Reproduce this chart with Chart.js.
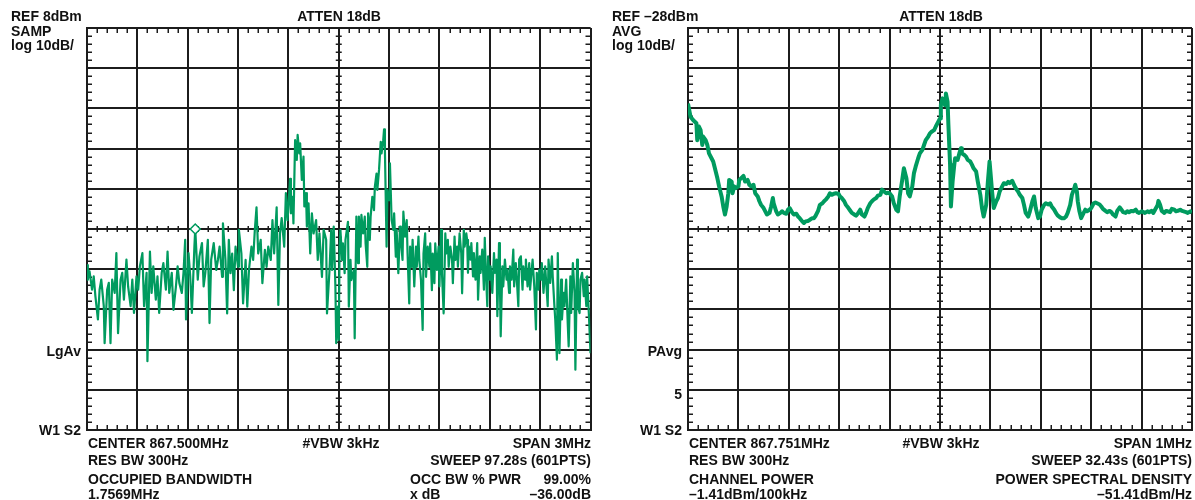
<!DOCTYPE html>
<html>
<head>
<meta charset="utf-8">
<script src="https://cdn.jsdelivr.net/npm/chart.js@4.4.1/dist/chart.umd.min.js"></script>
<style>
  body { margin: 0; background: #fff; }
  #wrap { position: relative; width: 1195px; height: 500px; overflow: hidden; background: #fff; }
  canvas { position: absolute; top: 0; }
  #sampChart { left: 0; }
  #avgChart { left: 601px; }
  .t {
    position: absolute; white-space: nowrap; color: #111;
    font: bold 14px "Liberation Sans", Arial, sans-serif; line-height: 16px;
  }
  .c { transform: translateX(-50%); }
</style>
</head>
<body>
<div id="wrap">
  <canvas id="sampChart" width="597" height="500"></canvas>
  <canvas id="avgChart" width="594" height="500"></canvas>

  <div class="t" style="left:11px;top:8px">REF 8dBm</div>
  <div class="t" style="left:11px;top:23px">SAMP</div>
  <div class="t" style="left:11px;top:37px">log 10dB/</div>
  <div class="t c" style="left:339px;top:8px">ATTEN 18dB</div>
  <div class="t" style="right:1114px;top:343px">LgAv</div>
  <div class="t" style="right:1114px;top:422px">W1 S2</div>
  <div class="t" style="left:88px;top:435px">CENTER 867.500MHz</div>
  <div class="t" style="left:88px;top:452px">RES BW 300Hz</div>
  <div class="t" style="left:88px;top:471px">OCCUPIED BANDWIDTH</div>
  <div class="t" style="left:88px;top:486px">1.7569MHz</div>
  <div class="t c" style="left:341px;top:435px">#VBW 3kHz</div>
  <div class="t" style="right:604px;top:435px">SPAN 3MHz</div>
  <div class="t" style="right:604px;top:452px">SWEEP 97.28s (601PTS)</div>
  <div class="t" style="left:410px;top:471px">OCC BW % PWR</div>
  <div class="t" style="right:604px;top:471px">99.00%</div>
  <div class="t" style="left:410px;top:486px">x dB</div>
  <div class="t" style="right:604px;top:486px">–36.00dB</div>

  <div class="t" style="left:612px;top:8px">REF –28dBm</div>
  <div class="t" style="left:612px;top:23px">AVG</div>
  <div class="t" style="left:612px;top:37px">log 10dB/</div>
  <div class="t c" style="left:941px;top:8px">ATTEN 18dB</div>
  <div class="t" style="right:513px;top:343px">PAvg</div>
  <div class="t" style="right:513px;top:386px">5</div>
  <div class="t" style="right:513px;top:422px">W1 S2</div>
  <div class="t" style="left:689px;top:435px">CENTER 867.751MHz</div>
  <div class="t" style="left:689px;top:452px">RES BW 300Hz</div>
  <div class="t" style="left:689px;top:471px">CHANNEL POWER</div>
  <div class="t" style="left:689px;top:486px">–1.41dBm/100kHz</div>
  <div class="t c" style="left:941px;top:435px">#VBW 3kHz</div>
  <div class="t" style="right:3px;top:435px">SPAN 1MHz</div>
  <div class="t" style="right:3px;top:452px">SWEEP 32.43s (601PTS)</div>
  <div class="t" style="right:3px;top:471px">POWER SPECTRAL DENSITY</div>
  <div class="t" style="right:3px;top:486px">–51.41dBm/Hz</div>
</div>

<script>
// sweep has 601 points (0..600); levels in dBm
let sampRef = 8;
let avgRef = -28;
let dbPerDiv = 10;

let sampPts = [
  0, 1, 3, 6, 8, 10, 13, 15, 17, 20,
  21, 24, 26, 28, 30, 33, 35, 37, 40, 42,
  44, 47, 49, 52, 54, 56, 59, 61, 63, 66,
  68, 71, 72, 75, 77, 79, 82, 84, 86, 89,
  91, 94, 96, 98, 101, 103, 106, 108, 110, 113,
  115, 117, 118, 121, 123, 125, 128, 129, 132, 134,
  137, 139, 141, 144, 146, 148, 151, 154, 156, 158,
  161, 162, 165, 167, 169, 171, 173, 175, 177, 180,
  181, 184, 186, 189, 191, 193, 196, 198, 200, 202,
  204, 207, 209, 212, 214, 216, 219, 221, 223, 226,
  228, 230, 232, 235, 237, 239, 240, 242, 243, 245,
  246, 248, 250, 251, 253, 254, 256, 258, 259, 261,
  262, 264, 266, 268, 270, 273, 275, 277, 280, 282,
  285, 286, 289, 291, 292, 294, 296, 297, 299, 300,
  301, 302, 304, 305, 307, 308, 311, 312, 314, 315,
  318, 319, 321, 323, 324, 326, 327, 329, 331, 332,
  334, 335, 337, 338, 340, 342, 343, 345, 346, 348,
  350, 351, 353, 354, 355, 357, 358, 360, 361, 363,
  365, 366, 368, 369, 371, 373, 374, 376, 377, 379,
  381, 382, 384, 385, 387, 388, 390, 392, 393, 395,
  396, 398, 400, 401, 403, 404, 406, 408, 409, 411,
  412, 414, 415, 417, 419, 420, 422, 423, 425, 427,
  428, 430, 431, 433, 435, 436, 438, 439, 441, 442,
  444, 446, 447, 449, 450, 452, 453, 454, 455, 457,
  458, 460, 461, 463, 465, 466, 468, 469, 471, 473,
  474, 475, 477, 478, 480, 481, 483, 485, 486, 488,
  489, 491, 492, 493, 495, 496, 498, 500, 501, 503,
  504, 506, 508, 509, 511, 512, 514, 515, 517, 519,
  520, 522, 523, 525, 527, 528, 530, 531, 533, 535,
  536, 538, 539, 541, 542, 544, 546, 547, 549, 550,
  552, 554, 555, 557, 558, 560, 561, 563, 565, 566,
  568, 569, 571, 573, 574, 576, 577, 579, 581, 582,
  584, 585, 587, 588, 590, 592, 593, 595, 596, 598,
  600
];
let sampLevels = [
  -51.0, -54.6, -52.5, -57.1, -53.8, -58.7, -64.5, -57.1, -54.6, -61.2,
  -70.4, -57.1, -55.4, -70.4, -54.6, -57.9, -48.0, -67.9, -54.6, -52.9,
  -59.6, -49.6, -56.3, -61.2, -54.6, -62.9, -53.8, -57.1, -51.3, -48.0,
  -61.2, -52.9, -74.9, -47.6, -57.9, -51.3, -59.6, -53.8, -62.9, -52.9,
  -50.5, -57.1, -47.6, -57.9, -52.9, -62.1, -56.3, -51.3, -55.4, -57.9,
  -52.9, -44.7, -64.5, -48.0, -53.8, -62.9, -46.3, -42.0, -54.6, -48.8,
  -45.5, -56.3, -52.9, -44.7, -65.4, -49.6, -45.5, -52.2, -49.7, -46.4,
  -53.9, -40.6, -49.7, -63.0, -44.7, -53.0, -48.1, -57.2, -46.4, -51.4,
  -42.2, -48.1, -60.5, -49.7, -61.3, -52.2, -46.4, -49.7, -42.2, -36.6,
  -48.1, -44.7, -55.5, -47.2, -51.4, -46.4, -49.7, -39.8, -48.1, -36.6,
  -60.9, -43.1, -39.3, -46.4, -33.1, -39.8, -36.4, -29.5, -38.1, -34.0,
  -40.6, -19.9, -24.8, -18.6, -23.2, -20.7, -29.8, -24.0, -36.4, -33.1,
  -41.4, -35.6, -48.1, -38.1, -43.1, -39.8, -49.7, -43.1, -53.9, -42.2,
  -44.7, -63.0, -52.2, -42.2, -52.2, -41.4, -56.3, -70.4, -61.3, -69.6,
  -46.4, -42.2, -49.7, -45.6, -53.0, -44.7, -40.2, -61.3, -49.7, -54.7,
  -52.2, -69.2, -38.9, -50.5, -38.9, -46.4, -38.5, -43.1, -38.9, -45.6,
  -51.4, -38.1, -44.7, -38.9, -34.0, -37.3, -31.5, -28.2, -32.3, -27.3,
  -20.3, -23.2, -19.9, -17.2, -22.3, -46.4, -32.3, -34.8, -25.7, -39.8,
  -42.2, -38.1, -48.9, -42.2, -53.0, -41.4, -44.7, -49.7, -37.7, -43.9,
  -39.8, -48.1, -60.5, -46.4, -51.4, -44.7, -56.3, -46.4, -51.4, -43.9,
  -49.7, -54.7, -67.1, -48.1, -43.1, -53.9, -46.4, -51.4, -45.6, -57.2,
  -48.1, -55.5, -45.6, -52.2, -46.4, -56.3, -42.2, -53.0, -63.0, -43.1,
  -48.1, -44.7, -51.4, -46.4, -49.7, -55.5, -43.9, -49.7, -46.4, -51.4,
  -43.1, -48.1, -58.0, -42.2, -46.4, -43.1, -44.7, -52.9, -46.3, -49.6,
  -45.5, -53.8, -48.0, -54.6, -45.5, -59.6, -48.8, -52.9, -47.1, -57.1,
  -44.2, -50.5, -61.2, -48.8, -54.6, -51.3, -57.9, -48.0, -52.9, -49.6,
  -63.7, -45.5, -54.6, -68.7, -51.3, -56.3, -49.6, -54.6, -52.1, -57.9,
  -51.3, -54.6, -47.1, -56.3, -50.5, -53.8, -61.2, -49.6, -48.8, -57.1,
  -51.3, -54.6, -49.6, -56.3, -50.5, -57.1, -52.1, -49.6, -56.3, -67.0,
  -52.9, -57.1, -52.1, -54.6, -50.5, -57.9, -51.3, -54.6, -61.2, -49.6,
  -55.4, -48.8, -53.8, -61.2, -64.5, -74.5, -48.0, -72.9, -54.6, -64.5,
  -57.9, -61.2, -54.6, -66.2, -71.2, -53.8, -62.9, -50.5, -57.9, -77.0,
  -49.6, -61.2, -62.9, -54.6, -52.9, -58.7, -54.6, -61.2, -53.8, -62.9,
  -72.9
];
let markerPts = [129];
let markerLevels = [-42.0];

let avgPts = [
  0, 3, 6, 10, 11, 13, 15, 17, 18, 21,
  23, 25, 28, 30, 33, 35, 37, 40, 42, 44,
  46, 48, 49, 52, 53, 55, 57, 60, 61, 63,
  66, 68, 71, 73, 75, 78, 80, 83, 85, 87,
  90, 92, 94, 97, 99, 101, 102, 105, 107, 110,
  112, 114, 117, 119, 121, 124, 126, 129, 131, 133,
  136, 138, 140, 143, 145, 148, 150, 152, 155, 157,
  160, 162, 164, 167, 169, 171, 174, 176, 179, 181,
  183, 186, 188, 191, 193, 195, 198, 200, 202, 205,
  207, 210, 212, 214, 217, 219, 221, 224, 226, 229,
  231, 233, 236, 238, 240, 243, 245, 248, 250, 252,
  255, 257, 260, 262, 264, 267, 269, 271, 274, 276,
  279, 281, 283, 286, 288, 290, 293, 295, 298, 300,
  301, 303, 306, 307, 309, 310, 312, 313, 315, 317,
  318, 321, 323, 325, 326, 329, 331, 333, 336, 338,
  340, 343, 345, 348, 350, 352, 355, 357, 359, 360,
  362, 364, 367, 369, 371, 374, 376, 379, 381, 383,
  386, 388, 390, 393, 395, 398, 400, 402, 405, 407,
  410, 412, 414, 417, 419, 421, 424, 426, 429, 431,
  433, 436, 438, 440, 443, 445, 448, 450, 452, 455,
  457, 460, 461, 463, 464, 466, 468, 471, 473, 475,
  478, 480, 483, 485, 487, 490, 492, 494, 497, 499,
  502, 504, 506, 509, 511, 514, 516, 518, 521, 523,
  525, 528, 530, 533, 535, 537, 540, 542, 544, 547,
  549, 552, 554, 556, 559, 560, 562, 564, 567, 569,
  571, 574, 576, 579, 581, 583, 586, 588, 590, 593,
  595, 598, 600
];
let avgLevels = [
  -46.8, -50.1, -50.9, -51.7, -55.9, -52.5, -53.4, -57.1, -55.0, -55.9,
  -57.1, -59.2, -60.4, -61.2, -63.7, -65.4, -67.4, -69.9, -72.4, -74.4,
  -72.4, -69.1, -65.8, -66.2, -69.1, -67.4, -67.8, -67.4, -65.8, -65.4,
  -64.8, -66.2, -65.8, -67.0, -67.4, -67.0, -69.1, -69.9, -71.1, -72.0,
  -72.8, -73.6, -74.4, -74.0, -72.4, -70.3, -71.6, -73.6, -74.4, -74.0,
  -73.6, -74.0, -74.2, -73.2, -72.8, -73.9, -74.4, -74.2, -74.9, -75.3,
  -76.1, -76.5, -76.1, -76.0, -75.7, -75.3, -75.3, -74.7, -73.4, -72.0,
  -71.6, -71.1, -70.7, -69.9, -69.1, -69.5, -69.2, -69.1, -69.2, -69.9,
  -70.3, -71.1, -72.0, -72.8, -73.4, -74.0, -74.4, -74.7, -74.2, -73.2,
  -74.4, -74.9, -74.0, -72.8, -71.6, -71.1, -70.7, -70.3, -69.7, -69.5,
  -68.2, -68.6, -69.1, -69.0, -69.1, -69.9, -71.6, -73.2, -73.6, -69.9,
  -65.8, -62.9, -65.4, -69.1, -69.9, -67.4, -64.1, -62.5, -60.4, -59.2,
  -58.3, -57.1, -55.9, -55.0, -54.2, -53.8, -53.4, -52.5, -51.3, -50.5,
  -47.2, -45.5, -47.2, -44.3, -46.3, -52.1, -62.0, -72.4, -66.2, -62.0,
  -60.4, -60.8, -59.2, -57.9, -59.2, -59.6, -60.0, -60.8, -61.2, -62.0,
  -62.9, -63.7, -66.2, -69.5, -72.8, -74.9, -72.0, -66.2, -61.2, -63.7,
  -68.7, -72.8, -71.1, -70.3, -68.7, -67.4, -66.6, -66.8, -66.3, -66.6,
  -66.0, -67.0, -67.8, -68.7, -69.5, -70.3, -72.0, -74.0, -74.9, -73.6,
  -71.1, -69.9, -72.8, -75.3, -74.9, -73.2, -72.0, -71.6, -71.9, -71.6,
  -72.4, -73.2, -74.0, -74.6, -75.1, -75.3, -75.3, -74.9, -74.0, -72.0,
  -69.5, -67.8, -67.0, -68.7, -71.1, -73.6, -75.3, -74.0, -73.2, -73.6,
  -73.2, -72.8, -71.6, -71.4, -71.6, -71.9, -72.4, -73.0, -73.5, -73.8,
  -73.5, -73.8, -74.4, -74.9, -73.5, -72.6, -73.2, -73.8, -74.0, -73.6,
  -73.8, -73.5, -73.6, -73.2, -73.8, -74.0, -73.6, -73.8, -74.0, -73.6,
  -73.8, -73.5, -74.0, -73.2, -72.1, -71.0, -72.0, -73.5, -74.0, -73.5,
  -73.6, -73.8, -73.0, -73.2, -73.6, -73.5, -73.2, -73.5, -73.6, -73.8,
  -74.0, -73.6, -73.8
];

let traceGreen = "#009b5f";
let gridInk = "#1c1c1c";

function toXY(pts, levels) {
  let out = [];
  for (let i = 0; i < pts.length; i++) {
    out.push({ x: pts[i], y: levels[i] });
  }
  return out;
}

// small graticule ticks along the frame and the two centre lines
const graticuleTicks = {
  id: "graticuleTicks",
  beforeDatasetsDraw(chart) {
    const ctx = chart.ctx;
    const { left, right, top, bottom } = chart.chartArea;
    const xs = chart.scales.x, ys = chart.scales.y;
    const xMid = xs.getPixelForValue(300);
    const yMid = ys.getPixelForValue((ys.min + ys.max) / 2);
    ctx.save();
    ctx.strokeStyle = gridInk;
    ctx.lineWidth = 1.5;
    ctx.beginPath();
    for (let v = ys.min; v <= ys.max + 0.01; v += 2) {
      let p = Math.round(ys.getPixelForValue(v)) + 0.25;
      ctx.moveTo(left, p); ctx.lineTo(left + 5, p);
      ctx.moveTo(right - 5, p); ctx.lineTo(right, p);
      ctx.moveTo(xMid - 3, p); ctx.lineTo(xMid + 3, p);
    }
    for (let s = 0; s <= 600; s += 12) {
      let p = Math.round(xs.getPixelForValue(s)) + 0.25;
      ctx.moveTo(p, top); ctx.lineTo(p, top + 5);
      ctx.moveTo(p, bottom - 5); ctx.lineTo(p, bottom);
      ctx.moveTo(p, yMid - 3); ctx.lineTo(p, yMid + 3);
    }
    ctx.stroke();
    ctx.restore();
  }
};

function makeScales(ref) {
  return {
    x: {
      type: "linear", min: 0, max: 600,
      ticks: { display: false, stepSize: 60 },
      grid: { color: gridInk, lineWidth: 2, drawTicks: false },
      border: { display: true, color: gridInk, width: 2 }
    },
    y: {
      type: "linear", min: ref - 10 * dbPerDiv, max: ref,
      ticks: { display: false, stepSize: dbPerDiv },
      grid: { color: gridInk, lineWidth: 2, drawTicks: false },
      border: { display: true, color: gridInk, width: 2 }
    }
  };
}

let baseOptions = {
  responsive: false,
  animation: false,
  devicePixelRatio: 1,
  events: [],
  plugins: { legend: { display: false }, tooltip: { enabled: false } }
};

new Chart(document.getElementById("sampChart"), {
  type: "line",
  data: {
    datasets: [
      {
        data: toXY(markerPts, markerLevels),
        showLine: false,
        pointStyle: "rectRot",
        pointRadius: 5,
        pointBorderWidth: 1.5,
        pointBorderColor: traceGreen,
        pointBackgroundColor: "#fff"
      },
      {
        data: toXY(sampPts, sampLevels),
        borderColor: traceGreen,
        borderWidth: 2.2,
        borderJoinStyle: "round",
        pointRadius: 0,
        tension: 0
      }
    ]
  },
  options: Object.assign({}, baseOptions, {
    layout: { padding: { left: 87, right: 6, top: 28, bottom: 70 } },
    scales: makeScales(sampRef)
  }),
  plugins: [graticuleTicks]
});

new Chart(document.getElementById("avgChart"), {
  type: "line",
  data: {
    datasets: [
      {
        data: toXY(avgPts, avgLevels),
        borderColor: traceGreen,
        borderWidth: 4,
        borderJoinStyle: "round",
        pointRadius: 0,
        tension: 0
      }
    ]
  },
  options: Object.assign({}, baseOptions, {
    layout: { padding: { left: 87, right: 3, top: 28, bottom: 70 } },
    scales: makeScales(avgRef)
  }),
  plugins: [graticuleTicks]
});
</script>
</body>
</html>
